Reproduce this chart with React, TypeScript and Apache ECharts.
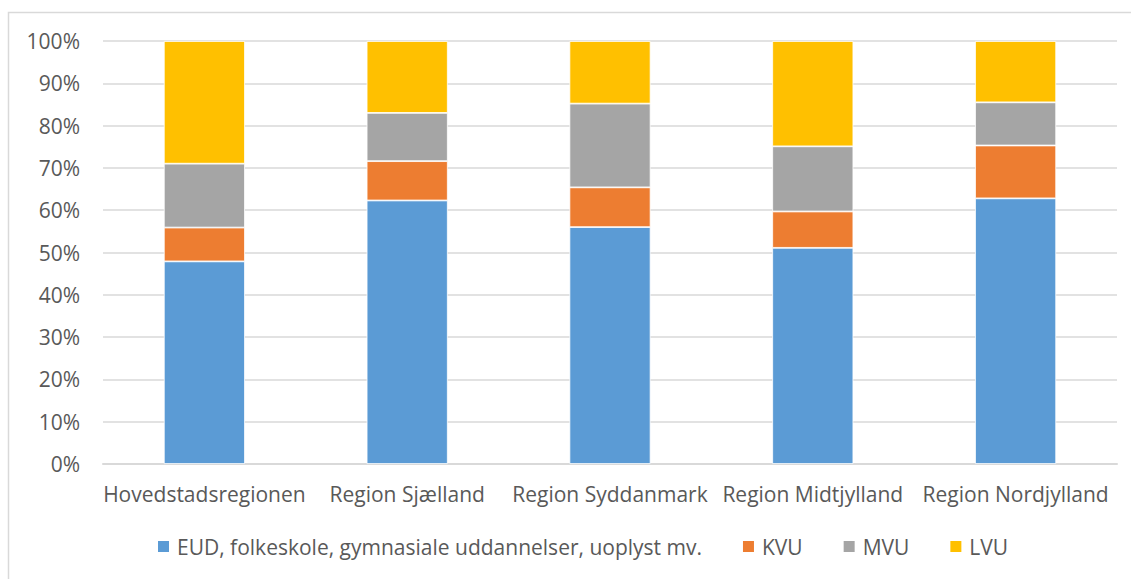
import React, { useEffect, useRef } from "react";
import * as echarts from "echarts";

const categories = [
  "Hovedstadsregionen",
  "Region Sjælland",
  "Region Syddanmark",
  "Region Midtjylland",
  "Region Nordjylland",
];
const eud = [47.9, 62.3, 56.0, 51.1, 62.8];
const kvu = [8.0, 9.3, 9.4, 8.6, 12.5];
const mvu = [15.1, 11.4, 19.8, 15.4, 10.2];
const lvu = [29.0, 17.0, 14.8, 24.9, 14.5];
const seriesNames = [
  "EUD, folkeskole, gymnasiale uddannelser, uoplyst mv.",
  "KVU",
  "MVU",
  "LVU",
];
const colors = ["#5B9BD5", "#ED7D31", "#A5A5A5", "#FFC000"];

export default function App() {
  const ref = useRef<HTMLDivElement>(null);
  useEffect(() => {
    if (!ref.current) return;
    const chart = echarts.init(ref.current, undefined, { renderer: "svg" });
    const font = "'Open Sans', sans-serif";
    const data = [eud, kvu, mvu, lvu];
    chart.setOption({
      animation: false,
      backgroundColor: "#ffffff",
      textStyle: { fontFamily: font },
      graphic: [
        {
          type: "rect",
          shape: { x: 8.5, y: 12.5, width: 1200, height: 700 },
          style: { fill: "none", stroke: "#D9D9D9", lineWidth: 1.5 },
          silent: true,
        },
      ],
      grid: { left: 103, right: 14, top: 41, bottom: 115 },
      legend: {
        bottom: 17,
        left: 151,
        itemWidth: 13,
        itemHeight: 13,
        itemGap: 39,
        icon: "rect",
        data: seriesNames,
        textStyle: { color: "#595959", fontSize: 21, fontFamily: font, padding: [0, 0, 0, 2] },
      },
      xAxis: {
        type: "category",
        data: categories,
        axisLine: { show: true, lineStyle: { color: "#D9D9D9", width: 2 } },
        axisTick: { show: false },
        axisLabel: { color: "#595959", fontSize: 21, fontFamily: font, margin: 19, interval: 0 },
      },
      yAxis: {
        type: "value",
        min: 0,
        max: 100,
        interval: 10,
        axisLine: { show: false },
        axisTick: { show: false },
        splitLine: { lineStyle: { color: "#D9D9D9", width: 1.5 } },
        axisLabel: {
          color: "#595959",
          fontSize: 21,
          fontFamily: font,
          margin: 23,
          formatter: "{value}%",
        },
      },
      series: seriesNames.map((name, i) => ({
        name,
        type: "bar",
        stack: "total",
        barWidth: "40%",
        data: data[i],
        itemStyle: { color: colors[i], borderColor: "#ffffff", borderWidth: 0.8 },
      })),
    });
    return () => chart.dispose();
  }, []);
  return (
    <div
      ref={ref}
      style={{ position: "absolute", left: 0, top: 0, width: 1131, height: 579 }}
    />
  );
}
